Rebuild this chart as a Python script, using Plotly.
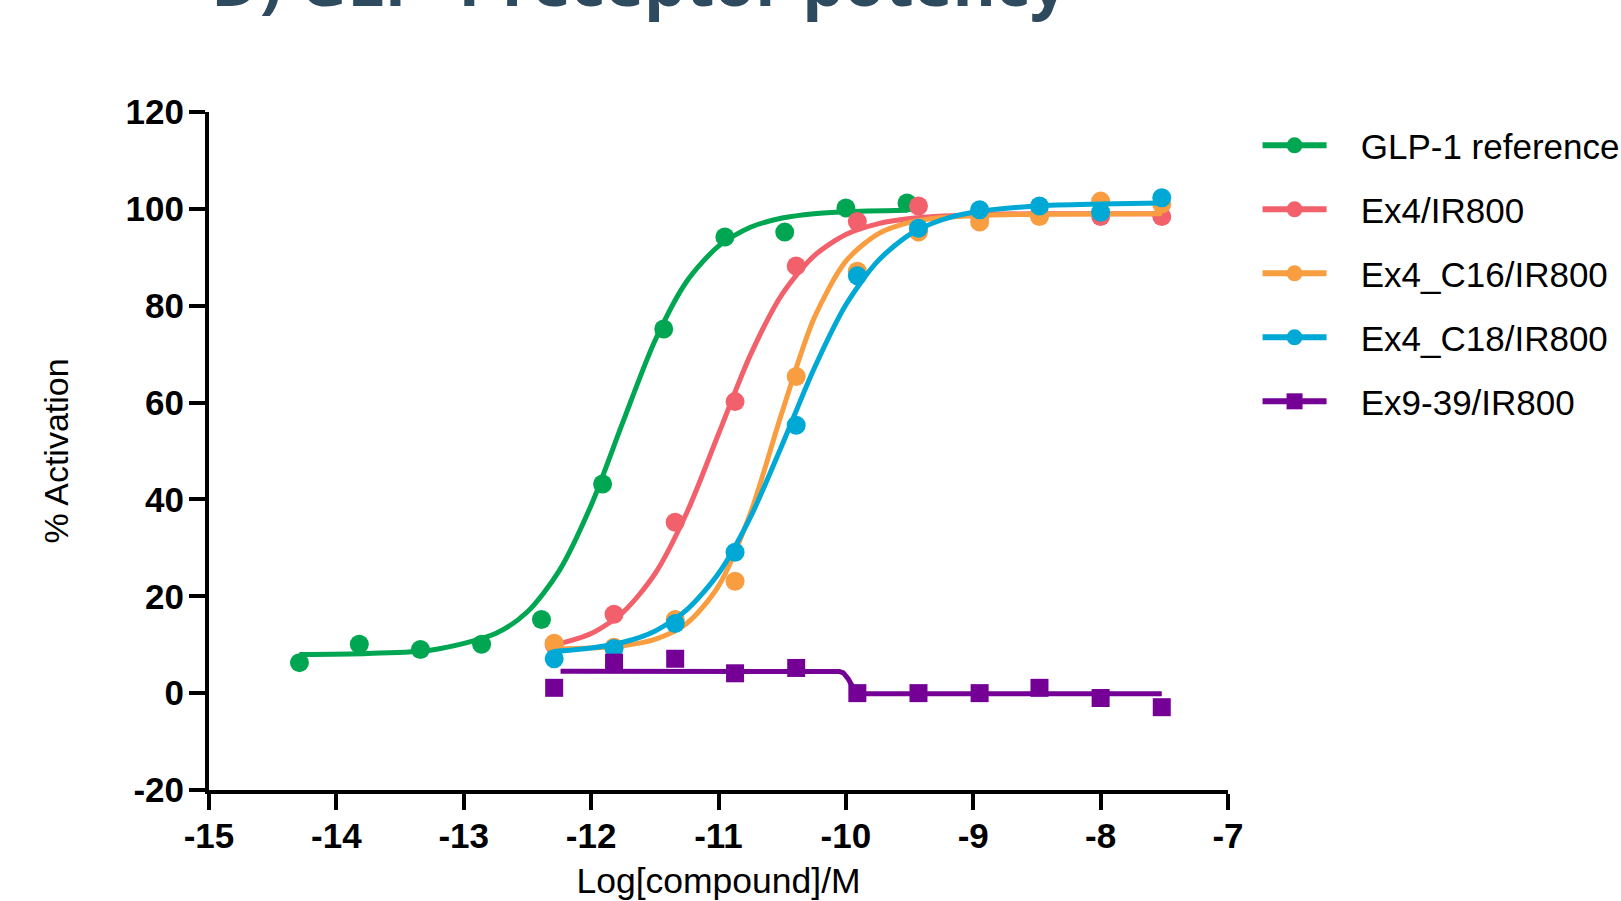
import plotly.graph_objects as go

# ---------------- data ----------------
glp_x = [-14.29, -13.82, -13.34, -12.86, -12.39, -11.91, -11.43, -10.95, -10.48, -10.0, -9.52]
glp_y = [6.3, 10.1, 9.0, 10.1, 15.2, 43.2, 75.2, 94.2, 95.2, 100.2, 101.2]

ex_x = [-12.29, -11.82, -11.34, -10.87, -10.39, -9.91, -9.43, -8.95, -8.48, -8.0, -7.52]
ex4_y = [10.0, 16.3, 35.3, 60.2, 88.2, 97.4, 100.6, 98.5, 98.8, 98.4, 98.4]
c16_y = [10.3, 9.5, 15.2, 23.1, 65.4, 87.1, 95.2, 97.3, 98.4, 101.6, 101.0]
c18_y = [7.1, 9.2, 14.4, 29.1, 55.3, 86.2, 96.0, 99.8, 100.6, 99.3, 102.3]
ex939_y = [1.1, 6.3, 7.1, 4.1, 5.2, 0.0, 0.0, 0.0, 1.1, -1.0, -2.9]

# fitted curves
glp_fit_x = [-14.29, -13.75, -13.25, -12.75, -12.5, -12.25, -12.0, -11.75, -11.5, -11.25, -11.0, -10.75, -10.5, -10.25, -10.0, -9.52]
glp_fit_y = [8.0, 8.2, 8.9, 12.3, 16.8, 25.3, 38.8, 56.0, 72.7, 85.0, 92.3, 96.2, 98.1, 99.0, 99.4, 99.7]

ex4_fit_x = [-12.29, -12.0, -11.75, -11.5, -11.25, -11.0, -10.75, -10.5, -10.25, -10.0, -9.75, -9.5, -9.0, -8.5, -8.0, -7.52]
ex4_fit_y = [9.9, 12.3, 16.7, 24.6, 37.2, 53.5, 69.8, 82.4, 90.3, 94.7, 96.9, 98.0, 98.8, 99.0, 99.0, 99.0]

c16_fit_x = [-12.29, -12.0, -11.75, -11.5, -11.25, -11.0, -10.75, -10.5, -10.25, -10.0, -9.75, -9.5, -9.25, -9.0, -8.5, -7.52]
c16_fit_y = [9.1, 9.3, 9.8, 11.1, 14.4, 22.1, 37.1, 58.1, 77.4, 89.2, 94.8, 97.2, 98.2, 98.6, 98.9, 99.0]

c18_fit_x = [-12.29, -12.0, -11.75, -11.5, -11.25, -11.0, -10.75, -10.5, -10.25, -10.0, -9.75, -9.5, -9.25, -9.0, -8.5, -8.0, -7.52]
c18_fit_y = [8.6, 9.3, 10.5, 12.8, 17.2, 24.7, 36.3, 51.3, 67.0, 80.2, 89.2, 94.7, 97.7, 99.3, 100.6, 101.0, 101.2]

ex939_fit_x = [-12.24, -10.12, -10.05, -10.02, -10.0, -9.98, -9.96, -9.94, -9.92, -9.90, -7.52]
ex939_fit_y = [4.5, 4.5, 4.45, 4.2, 3.7, 2.9, 1.9, 0.9, 0.2, -0.1, -0.1]

names = ["GLP-1 reference", "Ex4/IR800", "Ex4_C16/IR800", "Ex4_C18/IR800", "Ex9-39/IR800"]
colors = ["#00A651", "#F2606B", "#F89D40", "#00A9D5", "#740096"]
symbols = ["circle", "circle", "circle", "circle", "square"]
x_tick_vals = [-15, -14, -13, -12, -11, -10, -9, -8, -7]
y_tick_vals = [-20, 0, 20, 40, 60, 80, 100, 120]

title_text = "D) GLP-1 receptor potency"
x_title = "Log[compound]/M"
y_title = "% Activation"

# ---------------- figure ----------------
W, H = 1621, 901
ML, MR, MT, MB = 209, 393, 112, 111

points = [(glp_x, glp_y), (ex_x, ex4_y), (ex_x, c16_y), (ex_x, c18_y), (ex_x, ex939_y)]
fits = [(glp_fit_x, glp_fit_y, "spline"), (ex4_fit_x, ex4_fit_y, "spline"),
        (c16_fit_x, c16_fit_y, "spline"), (c18_fit_x, c18_fit_y, "spline"),
        (ex939_fit_x, ex939_fit_y, "linear")]

fig = go.Figure()
for i in range(5):
    fx, fy, shp = fits[i]
    fig.add_trace(go.Scatter(x=fx, y=fy, mode="lines",
                             line=dict(color=colors[i], width=5, shape=shp, smoothing=0.8),
                             showlegend=False, hoverinfo="skip", legendgroup=names[i]))
    px_, py_ = points[i]
    fig.add_trace(go.Scatter(x=px_, y=py_, mode="markers",
                             marker=dict(color=colors[i], size=19 if symbols[i] == "circle" else 18,
                                         symbol=symbols[i], line=dict(width=0)),
                             showlegend=False, name=names[i], legendgroup=names[i]))

# legend entries (line + marker)
pad = "\u00a0\u00a0\u00a0"
for i in range(5):
    fig.add_trace(go.Scatter(x=[None], y=[None], mode="lines+markers", name=pad + names[i],
                             legendgroup=names[i],
                             line=dict(color=colors[i], width=6),
                             marker=dict(color=colors[i], size=18, symbol=symbols[i])))

tickfont = dict(family="Liberation Sans, Arial", size=35, color="black", weight="bold")
fig.update_layout(
    width=W, height=H,
    margin=dict(l=ML, r=MR, t=MT, b=MB, autoexpand=False),
    paper_bgcolor="white", plot_bgcolor="white",
    font=dict(family="Liberation Sans, Arial", color="black"),
    showlegend=True,
    legend=dict(x=1.029, y=0.994, xanchor="left", yanchor="top",
                font=dict(family="Liberation Sans, Arial", size=35, color="black"),
                tracegroupgap=15.5, itemwidth=64, bgcolor="rgba(0,0,0,0)",
                itemsizing="trace"),
    xaxis=dict(range=[-15, -7], tickvals=x_tick_vals, ticktext=[str(v) for v in x_tick_vals],
               ticks="outside", ticklen=16, tickwidth=4, tickcolor="black",
               showline=True, linewidth=4, linecolor="black", ticklabelstandoff=-4,
               showgrid=False, zeroline=False, tickfont=tickfont,
               title=dict(text=x_title, font=dict(size=35.5, color="black"), standoff=25)),
    yaxis=dict(range=[-20, 120], tickvals=y_tick_vals, ticktext=[str(v) for v in y_tick_vals],
               ticks="outside", ticklen=16, tickwidth=4, tickcolor="black",
               showline=True, linewidth=4, linecolor="black", ticklabelstandoff=-2,
               showgrid=False, zeroline=False, tickfont=tickfont,
               title=dict(text=y_title, font=dict(size=34, color="black"), standoff=48)),
    annotations=[dict(text=title_text, xref="paper", yref="paper",
                      x=0.0, y=(790 - 27) / 678.0, xanchor="left", yanchor="bottom",
                      showarrow=False,
                      font=dict(family="Open Sans", size=66, color="#2E4A5F", weight="bold"))],
)

fig.write_html("out.html")
